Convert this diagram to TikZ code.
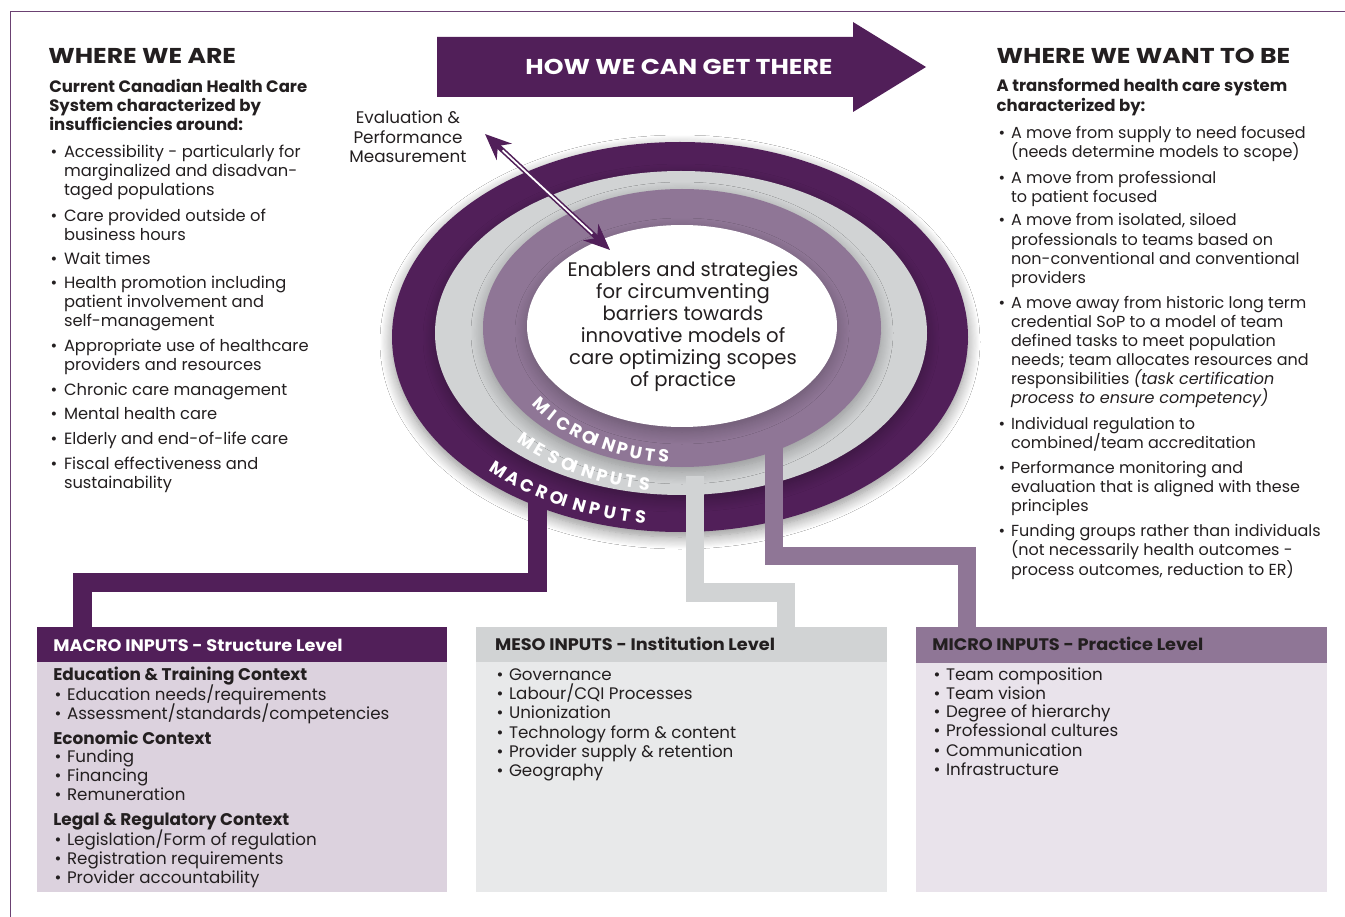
\documentclass[tikz,border=0pt]{standalone}
\usepackage{fontspec}
\setmainfont{Poppins}
\newfontfamily\hdfam{Poppins}[FakeStretch=1.17]
\newfontfamily\bfam{Poppins}[FakeStretch=1.06]
\usetikzlibrary{arrows.meta,shadows.blur,calc}
\definecolor{dkp}{HTML}{511F59}
\definecolor{lpp}{HTML}{8F7696}
\definecolor{gry}{HTML}{D1D3D4}
\definecolor{ink}{HTML}{231F20}
\definecolor{macbody}{HTML}{DCD2DE}
\definecolor{mesbody}{HTML}{E8E9EA}
\definecolor{micbody}{HTML}{E9E3EB}
\newcommand\curvfont{\fontsize{17.5}{20}\selectfont\bfseries}
% one word on an elliptical arc: #1 cx, #2 cy, #3 rx, #4 ry, #5 start angle, #6 end angle, #7 letters, #8 name prefix
\newcommand\arcword[8]{%
  \gdef\tw{0}%
  \foreach \ch [count=\cc] in {#7}{%
    \setbox0=\hbox{\curvfont\ch}\edef\cw{\the\wd0}%
    \pgfmathsetmacro\tmpw{\tw+\cw}\xdef\tw{\tmpw}\xdef\nchars{\cc}}%
  \pgfmathsetmacro\sA{100*sqrt((#3/100*sin(#5))^2+(#4/100*cos(#5))^2)}%
  \pgfmathsetmacro\sB{100*sqrt((#3/100*sin((#5+#6)/2))^2+(#4/100*cos((#5+#6)/2))^2)}%
  \pgfmathsetmacro\sC{100*sqrt((#3/100*sin(#6))^2+(#4/100*cos(#6))^2)}%
  \pgfmathsetmacro\arcL{(\sA+4*\sB+\sC)/6*(#6-#5)*pi/180}%
  \pgfmathsetmacro\lsp{(\arcL-\tw)/(\nchars-1)}%
  \xdef\curt{#5}%
  \foreach \ch [count=\cc] in {#7}{%
    \setbox0=\hbox{\curvfont\ch}\edef\cw{\the\wd0}%
    \pgfmathsetmacro\spd{100*sqrt((#3/100*sin(\curt))^2+(#4/100*cos(\curt))^2)}%
    \pgfmathsetmacro\tc{\curt+(\cw/2)/\spd*180/pi}%
    \pgfmathsetmacro\px{#1+#3*cos(\tc)}%
    \pgfmathsetmacro\py{#2+#4*sin(\tc)}%
    \pgfmathsetmacro\rot{atan2(#4*cos(\tc),-#3*sin(\tc))}%
    \node[curvchar, rotate=\rot, name=#8\cc] at (\px,\py) {\ch};%
    \pgfmathsetmacro\nt{\curt+(\cw+\lsp)/\spd*180/pi}%
    \xdef\curt{\nt}%
  }}
\tikzset{
  every node/.style={inner sep=0pt, outer sep=0pt},
  txt/.style={anchor=base west, font=\fontsize{16.3}{19}\selectfont, text=ink},
  txtr/.style={anchor=base west, font=\fontsize{16}{19}\selectfont, text=ink},
  txtb/.style={anchor=base west, font=\fontsize{16.5}{19}\selectfont\bfseries, text=ink},
  hd/.style={anchor=base west, font=\hdfam\fontsize{21.5}{24}\selectfont\bfseries, text=ink},
  bx/.style={anchor=base west, font=\fontsize{16.7}{20}\selectfont, text=ink},
  bxb/.style={anchor=base west, font=\bfam\fontsize{16.7}{20}\selectfont\bfseries, text=ink},
  bxs/.style={anchor=base west, font=\fontsize{16.9}{20}\selectfont\bfseries, text=ink},
  ctr/.style={anchor=base, font=\fontsize{19.6}{22}\selectfont, text=ink},
  evl/.style={anchor=base, font=\fontsize{16.8}{19}\selectfont, text=ink},
  curvchar/.style={anchor=base, font=\curvfont, text=white},
  boxrect/.style={anchor=north west, minimum width=411pt, draw=none},
  conn/.style={line width=18.5pt, line join=miter},
  ringshadow/.style={blur shadow={shadow blur steps=12, shadow xshift=0pt, shadow yshift=-5pt, shadow blur radius=12pt, shadow opacity=#1}}
}
\begin{document}
\begin{tikzpicture}[x=1pt,y=1pt]
\useasboundingbox (0,0) rectangle (1345,-917);
\fill[white] (0,0) rectangle (1345,-917);
% frame
\draw[dkp!85, line width=1.6pt] (10.5,-917) -- (10.5,-11.5) -- (1345,-11.5);

% header arrow
\fill[dkp] (437,-37) -- (853,-37) -- (853,-22) -- (926,-67) -- (853,-112) -- (853,-97) -- (437,-97) -- cycle;
\node[anchor=base, font=\hdfam\fontsize{21.5}{24}\selectfont\bfseries, text=white] (howTxt) at (679,-74.5) {HOW WE CAN GET THERE};

% rings
\fill[dkp, ringshadow=45] (680,-337) ellipse [x radius=288, y radius=195];
\fill[gry, ringshadow=30] (681,-333) ellipse [x radius=246, y radius=162];
\fill[lpp, ringshadow=30] (682,-328) ellipse [x radius=199, y radius=139];
\fill[white, ringshadow=25] (682,-326) ellipse [x radius=155, y radius=101];

% connectors
\coordinate (macS) at (537.5,-490);
\coordinate (macK) at (82.5,-582.5);
\coordinate (mesS) at (695,-476);
\coordinate (mesK) at (786,-592.5);
\coordinate (micS) at (774,-440);
\coordinate (micK) at (967,-556);

% boxes
\node[boxrect, fill=dkp, minimum height=35pt, minimum width=410pt] (macroHdr) at (37,-627) {};
\node[boxrect, fill=macbody, minimum height=230pt, minimum width=410pt] (macroBody) at (37,-662) {};
\node[boxrect, fill=gry, minimum height=35pt] (mesoHdr) at (476,-627) {};
\node[boxrect, fill=mesbody, minimum height=230pt] (mesoBody) at (476,-662) {};
\node[boxrect, fill=lpp, minimum height=36pt] (microHdr) at (916,-627) {};
\node[boxrect, fill=micbody, minimum height=229pt] (microBody) at (916,-663) {};

\draw[conn, dkp] (macS) |- (macK) -- (macK |- macroHdr.north);
\draw[conn, gry] (mesS) |- (mesK) -- (mesK |- mesoHdr.north);
\draw[conn, lpp] (micS) |- (micK) -- (micK |- microHdr.north);

% curved labels, one word at a time
\arcword{682}{-327}{183}{136}{217.5}{238.5}{M,I,C,R,O}{micA}
\arcword{682}{-327}{183}{136}{241}{264}{I,N,P,U,T,S}{micB}
\arcword{681}{-330}{228}{162}{226}{239.5}{M,E,S,O}{mesA}
\arcword{681}{-330}{228}{162}{241.5}{260.5}{I,N,P,U,T,S}{mesB}
\arcword{680}{-335}{273}{190}{227.5}{242.5}{M,A,C,R,O}{macA}
\arcword{680}{-335}{273}{190}{244.5}{261.5}{I,N,P,U,T,S}{macB}

% centre text
\foreach \yy/\ty [count=\i] in {276.7/{Enablers and strategies},298.7/{for circumventing},320.7/{barriers towards},342.7/{innovative models of},364.7/{care optimizing scopes},386.7/{of practice}}
  \node[ctr, name=ct\i] at (683,-\yy) {\ty};

% evaluation label and arrow
\foreach \yy/\ty [count=\i] in {124/{Evaluation \&},143.3/{Performance},162.7/{Measurement}}
  \node[evl, name=ev\i] at (408,-\yy) {\ty};
\coordinate (evA) at (485,-134);
\coordinate (evB) at (610,-250);
\draw[dkp, line width=5pt, {Stealth[length=26pt,width=22pt]}-{Stealth[length=26pt,width=22pt]}] (evA) -- (evB);
\draw[white, line width=1.8pt, shorten <=24pt, shorten >=24pt] (evA) -- (evB);

% left column
\node[hd] (wlHead) at (48.3,-63.3) {WHERE WE ARE};
\foreach \yy/\ty [count=\i] in {92.7/{Current Canadian Health Care},111.7/{System characterized by},130.7/{insufficiencies around:}}
  \node[txtb, name=wls\i] at (49.3,-\yy) {\ty};
\foreach \yy/\ty [count=\i] in {158/{Accessibility - particularly for},177/{marginalized and disadvan-},196/{taged populations},221.5/{Care provided outside of},240.5/{business hours},265/{Wait times},288.5/{Health promotion including},307.5/{patient involvement and},327/{self-management},351.5/{Appropriate use of healthcare},370.5/{providers and resources},395.5/{Chronic care management},419.5/{Mental health care},444/{Elderly and end-of-life care},469/{Fiscal effectiveness and},488/{sustainability}}
  \node[txt, name=wl\i] at (64,-\yy) {\ty};
\foreach \yy [count=\i] in {158,221.5,265,288.5,351.5,395.5,419.5,444,469}
  \node[txt, name=wlb\i] at (50.5,-\yy) {\textbullet};

% right column
\node[hd] (wrHead) at (996.7,-63.3) {WHERE WE WANT TO BE};
\foreach \yy/\ty [count=\i] in {91.7/{A transformed health care system},111.7/{characterized by:}}
  \node[txtb, name=wrs\i] at (996.7,-\yy) {\ty};
\foreach \yy/\ty [count=\i] in {139/{A move from supply to need focused},157.5/{(needs determine models to scope)},184/{A move from professional},202.5/{to patient focused},226/{A move from isolated, siloed},245.5/{professionals to teams based on},265/{non-conventional and conventional},284/{providers},308.5/{A move away from historic long term},328/{credential SoP to a model of team},347/{defined tasks to meet population},366/{needs; team allocates resources and},385/{responsibilities \textit{(task certification}},404/{\textit{process to ensure competency)}},429/{Individual regulation to},448/{combined/team accreditation},473/{Performance monitoring and},492/{evaluation that is aligned with these},511.5/{principles},536/{Funding groups rather than individuals},555.5/{(not necessarily health outcomes -},575/{process outcomes, reduction to ER)}}
  \node[txtr, name=wr\i] at (1011,-\yy) {\ty};
\foreach \yy [count=\i] in {139,184,226,308.5,429,473,536}
  \node[txtr, name=wrb\i] at (998.5,-\yy) {\textbullet};

% macro box text
\node[bxb, text=white] (macroTitle) at (53.3,-651.7) {MACRO INPUTS - Structure Level};
\foreach \yy/\ty [count=\i] in {680.7/{Education \& Training Context},744/{Economic Context},825.7/{Legal \& Regulatory Context}}
  \node[bxs, name=macS\i] at (53.3,-\yy) {\ty};
\foreach \yy/\ty [count=\i] in {700/{Education needs/requirements},719.3/{Assessment/standards/competencies},762.7/{Funding},781.7/{Financing},800.7/{Remuneration},845/{Legislation/Form of regulation},864/{Registration requirements},883.3/{Provider accountability}}
  {\node[bx, name=macI\i] at (67,-\yy) {\ty};
   \node[bx, name=macB\i] at (54.5,-\yy) {\textbullet};}

% meso box text
\node[bxb] (mesoTitle) at (495,-650.7) {MESO INPUTS - Institution Level};
\foreach \yy/\ty [count=\i] in {680.7/{Governance},699.3/{Labour/CQI Processes},718.7/{Unionization},738.3/{Technology form \& content},757.3/{Provider supply \& retention},776.7/{Geography}}
  {\node[bx, name=mesI\i] at (509,-\yy) {\ty};
   \node[bx, name=mesB\i] at (496.5,-\yy) {\textbullet};}

% micro box text
\node[bxb] (microTitle) at (932.3,-650) {MICRO INPUTS - Practice Level};
\foreach \yy/\ty [count=\i] in {680/{Team composition},699/{Team vision},717.7/{Degree of hierarchy},736.7/{Professional cultures},756/{Communication},775.7/{Infrastructure}}
  {\node[bx, name=micI\i] at (946,-\yy) {\ty};
   \node[bx, name=micB\i] at (933.5,-\yy) {\textbullet};}
\end{tikzpicture}
\end{document}
